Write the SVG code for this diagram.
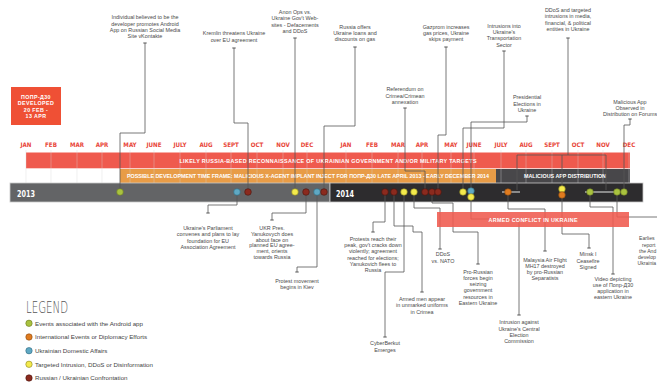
<svg xmlns="http://www.w3.org/2000/svg" width="657" height="385" viewBox="0 0 657 385">
<defs>
<style>
.lbl{font-family:"Liberation Sans",Arial,sans-serif;font-size:5.4px;fill:#4a4a4a;text-anchor:middle}
.mon{font-family:"Liberation Sans Narrow","DejaVu Sans Condensed","Liberation Sans",sans-serif;font-stretch:condensed;font-weight:bold;font-size:6.2px;fill:#e8473a;text-anchor:middle}
.band{font-family:"Liberation Sans",Arial,sans-serif;font-weight:bold;font-size:5.4px;fill:#fff;text-anchor:middle}
.yr{font-family:"Liberation Sans Narrow","DejaVu Sans Condensed","Liberation Sans",sans-serif;font-stretch:condensed;font-weight:bold;font-size:9.5px;fill:#fff}
.leg{font-family:"Liberation Sans",Arial,sans-serif;font-size:6.2px;fill:#444}
.con{fill:none;stroke:#555;stroke-width:0.8;marker-end:url(#tick)}
.grid{stroke:#d8d8d8;stroke-width:0.6;opacity:0.6}
.g{fill:#a9c23f;stroke:#6b7a22;stroke-width:0.6}
.o{fill:#e07b1f;stroke:#8a4a10;stroke-width:0.6}
.b{fill:#5fa8c3;stroke:#2f6a80;stroke-width:0.6}
.y{fill:#f4ea4c;stroke:#8a8420;stroke-width:0.6}
.r{fill:#8b2a1e;stroke:#4a140e;stroke-width:0.6}
</style>
<marker id="tick" markerUnits="userSpaceOnUse" markerWidth="6" markerHeight="6" refX="3" refY="3" orient="auto" viewBox="0 0 6 6">
<path d="M3,1.3 V4.7" stroke="#555" stroke-width="1"/>
</marker>
</defs>
<rect width="657" height="385" fill="#fff"/>

<g id="title-box">
<rect x="11" y="87" width="50" height="38" fill="#ef5035"/>
<text x="36" y="99" style="font-family:'Liberation Sans',sans-serif;font-weight:bold;font-size:5.3px;fill:#fff;text-anchor:middle;letter-spacing:0.4px">ПОПР-Д30</text>
<text x="36" y="105.3" style="font-family:'Liberation Sans',sans-serif;font-weight:bold;font-size:5.3px;fill:#fff;text-anchor:middle;letter-spacing:0.4px">DEVELOPED</text>
<text x="36" y="111.6" style="font-family:'Liberation Sans',sans-serif;font-weight:bold;font-size:5.3px;fill:#fff;text-anchor:middle;letter-spacing:0.4px">20 FEB -</text>
<text x="36" y="118" style="font-family:'Liberation Sans',sans-serif;font-weight:bold;font-size:5.3px;fill:#fff;text-anchor:middle;letter-spacing:0.4px">13 APR</text>
</g>

<g id="months">
<text class="mon" x="26" y="147">JAN</text><text class="mon" x="51" y="147">FEB</text><text class="mon" x="77" y="147">MAR</text><text class="mon" x="102" y="147">APR</text><text class="mon" x="130" y="147">MAY</text><text class="mon" x="154" y="147">JUNE</text><text class="mon" x="180" y="147">JULY</text><text class="mon" x="206" y="147">AUG</text><text class="mon" x="231" y="147">SEPT</text><text class="mon" x="257" y="147">OCT</text><text class="mon" x="283" y="147">NOV</text><text class="mon" x="307" y="147">DEC</text>
<text class="mon" x="346" y="147">JAN</text><text class="mon" x="372" y="147">FEB</text><text class="mon" x="398" y="147">MAR</text><text class="mon" x="422" y="147">APR</text><text class="mon" x="451" y="147">MAY</text><text class="mon" x="474" y="147">JUNE</text><text class="mon" x="501" y="147">JULY</text><text class="mon" x="526" y="147">AUG</text><text class="mon" x="552" y="147">SEPT</text><text class="mon" x="578" y="147">OCT</text><text class="mon" x="603" y="147">NOV</text><text class="mon" x="629" y="147">DEC</text>
</g>

<g id="bands">
<rect x="26" y="152.5" width="604" height="15.8" fill="#ef5a4e"/>
<rect x="120" y="169" width="376" height="14" fill="#e89c47"/>
<rect x="496" y="169" width="134" height="14" fill="#48474a"/>
<path class="grid" d="M26,150V183M51,150V183M77,150V183M102,150V183M130,150V183M154,150V183M180,150V183M206,150V183M231,150V183M257,150V183M283,150V183M307,150V183M346,150V183M372,150V183M398,150V183M422,150V183M451,150V183M474,150V183M501,150V183M526,150V183M552,150V183M578,150V183M603,150V183M629,150V183"/>
<text class="band" x="328" y="162.5" textLength="297" lengthAdjust="spacing">LIKELY RUSSIA-BASED RECONNAISSANCE OF UKRAINIAN GOVERNMENT AND/OR MILITARY TARGETS</text>
<text class="band" x="308" y="177.8" textLength="362" lengthAdjust="spacing">POSSIBLE DEVELOPMENT TIME FRAME: MALICIOUS X-AGENT IMPLANT INJECT FOR ПОПР-Д30 LATE APRIL 2013 - EARLY DECEMBER 2014</text>
<text class="band" x="565" y="177.8" textLength="82" lengthAdjust="spacing">MALICIOUS APP DISTRIBUTION</text>
</g>

<g id="timeline-bar">
<rect x="10" y="183" width="320" height="19" fill="#636466" stroke="#c8c8c8" stroke-width="0.8"/>
<rect x="330" y="183" width="313" height="19" fill="#2d2c2e" stroke="#c8c8c8" stroke-width="0.8"/>
<text class="yr" x="17" y="196.5" textLength="18" lengthAdjust="spacingAndGlyphs">2013</text>
<text class="yr" x="336" y="196.5" textLength="18" lengthAdjust="spacingAndGlyphs">2014</text>
<path d="M502,192H520M585,192H617" stroke="#8a8a8a" stroke-width="2.2"/>
</g>

<g id="connectors">
<path class="con" d="M120,190V133H145V43"/>
<path class="con" d="M248,190V123H234V48"/>
<path class="con" d="M295,190V38"/>
<path class="con" d="M324,190V126H355V47"/>
<path class="con" d="M425,190V171H405V108"/>
<path class="con" d="M438,190V135H446V47"/>
<path class="con" d="M463,190V128H504V51"/>
<path class="con" d="M471,190V122H527V116"/>
<path class="con" d="M517,190V155H606V190" style="marker-end:none"/>
<path class="con" d="M562,189V155"  style="marker-end:none"/>
<path class="con" d="M568,155V38"/>
<path class="con" d="M624,190V125H630V119"/>
<path class="con" d="M237,194V205H208V213"/>
<path class="con" d="M306,194V213H272V220"/>
<path class="con" d="M317,194V267H297V272"/>
<path class="con" d="M385,194V222H373V232"/>
<path class="con" d="M394,194V226H413V232H422V292"/>
<path class="con" d="M404,194V272H385V337"/>
<path class="con" d="M414,194V208H440V249"/>
<path class="con" d="M432,194V203H453V232H478V264"/>
<path class="con" d="M471,199V219H519V315"/>
<path class="con" d="M508,194V209H545V251"/>
<path class="con" d="M562,197V234H589V248"/>
<path class="con" d="M590,194V207H613V274"/>
<path class="con" d="M617,194V217H660" style="marker-end:none"/>
</g>

<g id="armed-conflict">
<rect x="437" y="212" width="192" height="15" fill="#ef5a4e" fill-opacity="0.88"/>
<text class="band" x="533" y="221.5" textLength="89" lengthAdjust="spacing">ARMED CONFLICT IN UKRAINE</text>
</g>

<g id="dots">
<circle class="g" cx="120" cy="192" r="3.3"/>
<circle class="b" cx="237" cy="192" r="3.3"/>
<circle class="r" cx="248" cy="192" r="3.3"/>
<circle class="y" cx="295" cy="192" r="3.3"/>
<circle class="r" cx="306" cy="192" r="3.3"/>
<circle class="b" cx="317" cy="192" r="3.3"/>
<circle class="r" cx="324" cy="192" r="3.3"/>
<circle class="r" cx="385" cy="192" r="3.3"/>
<circle class="r" cx="394" cy="192" r="3.3"/>
<circle class="y" cx="404" cy="192" r="3.3"/>
<circle class="y" cx="414" cy="192" r="3.3"/>
<circle class="r" cx="425" cy="192" r="3.3"/>
<circle class="r" cx="432" cy="192" r="3.3"/>
<circle class="r" cx="438" cy="192" r="3.3"/>
<circle class="y" cx="463" cy="192" r="3.3"/>
<circle class="b" cx="471" cy="191" r="3.3"/>
<circle class="y" cx="471" cy="197" r="3.3"/>
<circle class="o" cx="508" cy="192" r="3.3"/>
<circle class="y" cx="562" cy="189" r="3.3"/>
<circle class="o" cx="562" cy="195" r="3.3"/>
<circle class="g" cx="590" cy="192" r="3.3"/>
<circle class="g" cx="617" cy="192" r="3.3"/>
<circle class="g" cx="624" cy="192" r="3.3"/>
</g>

<g id="ev-individual"><text class="lbl" x="145" y="19.3">Individual believed to be  the<tspan x="145" dy="6.3">developer promotes Android</tspan><tspan x="145" dy="6.3">App on Russian Social Media</tspan><tspan x="145" dy="6.3">Site vKontakte</tspan></text></g>
<g id="ev-kremlin"><text class="lbl" x="234" y="35.3">Kremlin threatens Ukraine<tspan x="234" dy="6.3">over EU agreement</tspan></text></g>
<g id="ev-anon"><text class="lbl" x="295" y="14">Anon Ops vs.<tspan x="295" dy="6.3">Ukraine Gov't Web-</tspan><tspan x="295" dy="6.3">sites - Defacements</tspan><tspan x="295" dy="6.3">and DDoS</tspan></text></g>
<g id="ev-loans"><text class="lbl" x="355" y="28.6">Russia offers<tspan x="355" dy="6.3">Ukraine loans and</tspan><tspan x="355" dy="6.3">discounts on gas</tspan></text></g>
<g id="ev-referendum"><text class="lbl" x="405" y="91.3">Referendum on<tspan x="405" dy="6.3">Crimea/Crimean</tspan><tspan x="405" dy="6.3">annexation</tspan></text></g>
<g id="ev-gazprom"><text class="lbl" x="446" y="28.6">Gazprom increases<tspan x="446" dy="6.3">gas prices, Ukraine</tspan><tspan x="446" dy="6.3">skips payment</tspan></text></g>
<g id="ev-transport"><text class="lbl" x="504" y="27.6">Intrusions into<tspan x="504" dy="6.3">Ukraine's</tspan><tspan x="504" dy="6.3">Transportation</tspan><tspan x="504" dy="6.3">Sector</tspan></text></g>
<g id="ev-elections"><text class="lbl" x="527" y="99.3">Presidential<tspan x="527" dy="6.3">Elections in</tspan><tspan x="527" dy="6.3">Ukraine</tspan></text></g>
<g id="ev-ddos-media"><text class="lbl" x="568" y="12">DDoS and targeted<tspan x="568" dy="6.3">intrusions in media,</tspan><tspan x="568" dy="6.3">financial, &amp; political</tspan><tspan x="568" dy="6.3">entities  in Ukraine</tspan></text></g>
<g id="ev-forum"><text class="lbl" x="630" y="103.7">Malicious App<tspan x="630" dy="6.3">Observed in</tspan><tspan x="630" dy="6.3">Distribution on Forums</tspan></text></g>
<g id="ev-parliament"><text class="lbl" x="208" y="230">Ukraine's Parliament<tspan x="208" dy="6.3">convenes and plans to lay</tspan><tspan x="208" dy="6.3">foundation for EU</tspan><tspan x="208" dy="6.3">Association Agreement</tspan></text></g>
<g id="ev-yanukovych"><text class="lbl" x="272" y="230">UKR Pres.<tspan x="272" dy="5.8">Yanukovych does</tspan><tspan x="272" dy="5.8">about face on</tspan><tspan x="272" dy="5.8">planned EU agree-</tspan><tspan x="272" dy="5.8">ment, orients</tspan><tspan x="272" dy="5.8">towards Russia</tspan></text></g>
<g id="ev-protest-kiev"><text class="lbl" x="297" y="282.7">Protest movement<tspan x="297" dy="6.3">begins in Kiev</tspan></text></g>
<g id="ev-protests-peak"><text class="lbl" x="373" y="241">Protests reach their<tspan x="373" dy="6.2">peak, gov't cracks down</tspan><tspan x="373" dy="6.2">violently; agreement</tspan><tspan x="373" dy="6.2">reached for elections;</tspan><tspan x="373" dy="6.2">Yanukovich flees to</tspan><tspan x="373" dy="6.2">Russia</tspan></text></g>
<g id="ev-armed-men"><text class="lbl" x="422" y="301">Armed men appear<tspan x="422" dy="6.3">in unmarked uniforms</tspan><tspan x="422" dy="6.3">in Crimea</tspan></text></g>
<g id="ev-cyberberkut"><text class="lbl" x="385" y="345.3">CyberBerkut<tspan x="385" dy="6.3">Emerges</tspan></text></g>
<g id="ev-ddos-nato"><text class="lbl" x="443" y="256">DDoS<tspan x="443" dy="6.5">vs. NATO</tspan></text></g>
<g id="ev-pro-russian"><text class="lbl" x="478" y="273.7">Pro-Russian<tspan x="478" dy="6.2">forces begin</tspan><tspan x="478" dy="6.2">seizing</tspan><tspan x="478" dy="6.2">government</tspan><tspan x="478" dy="6.2">resources in</tspan><tspan x="478" dy="6.2">Eastern Ukraine</tspan></text></g>
<g id="ev-cec"><text class="lbl" x="519" y="324.3">Intrusion against<tspan x="519" dy="6.2">Ukraine's Central</tspan><tspan x="519" dy="6.2">Election</tspan><tspan x="519" dy="6.2">Commission</tspan></text></g>
<g id="ev-mh17"><text class="lbl" x="545" y="261.7">Malaysia Air Flight<tspan x="545" dy="6">MH17 destroyed</tspan><tspan x="545" dy="6">by pro-Russian</tspan><tspan x="545" dy="6">Separatists</tspan></text></g>
<g id="ev-minsk"><text class="lbl" x="588" y="256">Minsk I<tspan x="588" dy="6.5">Ceasefire</tspan><tspan x="588" dy="6.5">Signed</tspan></text></g>
<g id="ev-video"><text class="lbl" x="613" y="281.3">Video depicting<tspan x="613" dy="6">use of Попр-Д30</tspan><tspan x="613" dy="6">application in</tspan><tspan x="613" dy="6">eastern Ukraine</tspan></text></g>
<g id="ev-earliest"><text class="lbl" x="639" y="240.3" style="text-anchor:start;font-size:5.1px">Earlies<tspan x="642" dy="6.2">report</tspan><tspan x="639" dy="6.2">the And</tspan><tspan x="638" dy="6.2">develop</tspan><tspan x="637.5" dy="6.2">Ukrainia</tspan></text></g>

<g id="legend">
<text x="26" y="312.5" textLength="42" lengthAdjust="spacingAndGlyphs" style="font-family:'DejaVu Sans','Liberation Sans',sans-serif;font-weight:200;font-size:16px;fill:#555">LEGEND</text>
<circle class="g" cx="29" cy="323.3" r="3.2"/><text class="leg" x="35" y="325.5">Events associated with the Android app</text>
<circle class="o" cx="29" cy="337" r="3.2"/><text class="leg" x="35" y="339.2">International Events or Diplomacy Efforts</text>
<circle class="b" cx="29" cy="350.7" r="3.2"/><text class="leg" x="35" y="352.9">Ukrainian Domestic Affairs</text>
<circle class="y" cx="29" cy="364.3" r="3.2"/><text class="leg" x="35" y="366.5">Targeted Intrusion, DDoS or Disinformation</text>
<circle class="r" cx="29" cy="378" r="3.2"/><text class="leg" x="35" y="380.2">Russian / Ukrainian Confrontation</text>
</g>
</svg>
